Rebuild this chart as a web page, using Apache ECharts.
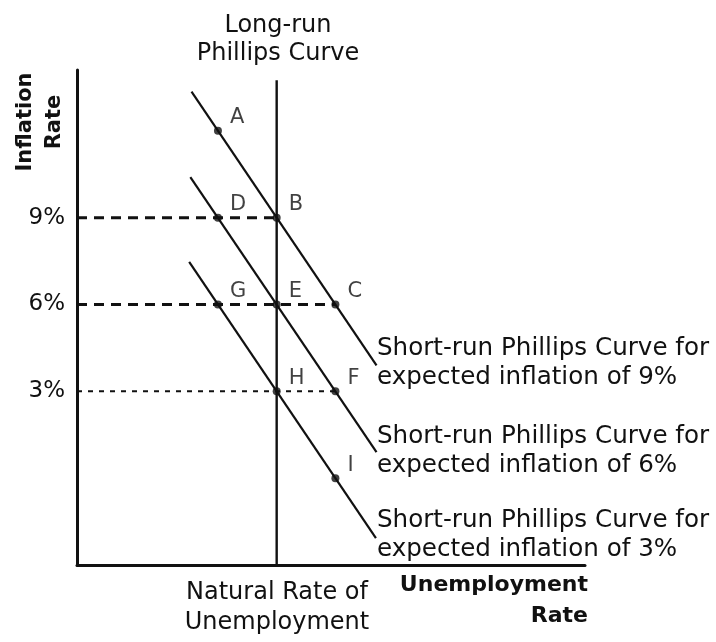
<!DOCTYPE html>
<html>
<head>
<meta charset="utf-8">
<script src="https://cdn.jsdelivr.net/npm/echarts@6/dist/echarts.min.js"></script>
<style>
  html, body { margin: 0; padding: 0; background: #fff; }
  #main { width: 716px; height: 642px; }
</style>
</head>
<body>
<div id="main"></div>
<script>
// points on the curves
var pointNames = ['A', 'B', 'C', 'D', 'E', 'F', 'G', 'H', 'I'];
var pointX = [5, 6, 7, 5, 6, 7, 5, 6, 7];
var pointY = [12, 9, 6, 9, 6, 3, 6, 3, 0];

// short-run curves, start/end
var srpc9 = [[4.55, 13.35], [7.7, 3.9]];
var srpc6 = [[4.53, 10.4], [7.7, 0.9]];
var srpc3 = [[4.51, 7.47], [7.69, -2.07]];
var lrpc = [[6, 13.75], [6, -3]];

// dashed guide lines
var guide9 = [[2.6, 9], [6, 9]];
var guide6 = [[2.6, 6], [7, 6]];
var guide3 = [[2.6, 3], [7, 3]];

var tickValues = [3, 6, 9];

var FONT = 'DejaVu Sans';
var INK = '#111';

var myChart = echarts.init(document.getElementById('main'));

function seg(data, width, type) {
    return {
        type: 'line',
        data: data,
        symbol: 'none',
        silent: true,
        lineStyle: { color: INK, width: width, type: type || 'solid' },
        z: 2
    };
}

var scatterData = pointNames.map(function (n, i) {
    return { name: n, value: [pointX[i], pointY[i]] };
});

var option = {
    animation: false,
    grid: { left: 77, right: 131, top: 70, bottom: 77 },
    xAxis: {
        type: 'value',
        min: 2.6,
        max: 11.25,
        axisLine: { show: true, onZero: false, lineStyle: { color: INK, width: 3 } },
        axisTick: { show: false },
        axisLabel: { show: false },
        splitLine: { show: false }
    },
    yAxis: {
        type: 'value',
        min: -3,
        max: 14.1,
        interval: 3,
        axisLine: { show: true, onZero: false, lineStyle: { color: INK, width: 3 } },
        axisTick: { show: false },
        splitLine: { show: false },
        axisLabel: {
            showMaxLabel: false,
            margin: 12,
            fontFamily: FONT,
            fontSize: 23,
            color: INK,
            formatter: function (v) {
                return tickValues.indexOf(v) >= 0 ? v + '%' : '';
            }
        }
    },
    series: [
        seg(guide9, 3, [10, 7]),
        seg(guide6, 3, [10, 7]),
        seg(guide3, 2, [5, 6]),
        seg(lrpc, 2.4),
        seg(srpc9, 2.2),
        seg(srpc6, 2.2),
        seg(srpc3, 2.2),
        {
            type: 'scatter',
            data: scatterData,
            symbolSize: 8,
            itemStyle: { color: INK },
            z: 5,
            label: {
                show: true,
                position: 'right',
                distance: 6,
                offset: [2, -13],
                formatter: '{b}',
                fontFamily: FONT,
                fontSize: 21,
                color: INK
            }
        }
    ],
    graphic: [
        {
            type: 'text', x: 278, y: 40,
            style: {
                text: 'Long-run\nPhillips Curve', font: '24px "DejaVu Sans"',
                fill: INK, align: 'center', verticalAlign: 'middle', lineHeight: 28
            }
        },
        {
            type: 'text', x: 40, y: 122, rotation: Math.PI / 2,
            style: {
                text: 'Inflation\nRate', font: 'bold 21px "DejaVu Sans"',
                fill: INK, align: 'center', verticalAlign: 'middle', lineHeight: 29
            }
        },
        {
            type: 'text', x: 377, y: 363,
            style: {
                text: 'Short-run Phillips Curve for\nexpected inflation of 9%', font: '24.6px "DejaVu Sans"',
                fill: INK, align: 'left', verticalAlign: 'middle', lineHeight: 29
            }
        },
        {
            type: 'text', x: 377, y: 451,
            style: {
                text: 'Short-run Phillips Curve for\nexpected inflation of 6%', font: '24.6px "DejaVu Sans"',
                fill: INK, align: 'left', verticalAlign: 'middle', lineHeight: 29
            }
        },
        {
            type: 'text', x: 377, y: 535,
            style: {
                text: 'Short-run Phillips Curve for\nexpected inflation of 3%', font: '24.6px "DejaVu Sans"',
                fill: INK, align: 'left', verticalAlign: 'middle', lineHeight: 29
            }
        },
        {
            type: 'text', x: 277, y: 608,
            style: {
                text: 'Natural Rate of\nUnemployment', font: '24px "DejaVu Sans"',
                fill: INK, align: 'center', verticalAlign: 'middle', lineHeight: 30
            }
        },
        {
            type: 'text', x: 588, y: 601,
            style: {
                text: 'Unemployment\nRate', font: 'bold 22px "DejaVu Sans"',
                fill: INK, align: 'right', verticalAlign: 'middle', lineHeight: 31
            }
        }
    ]
};

myChart.setOption(option);
</script>
</body>
</html>
